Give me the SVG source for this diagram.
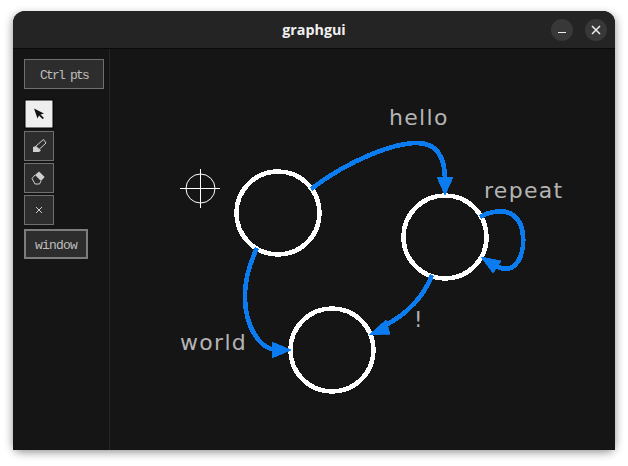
<svg xmlns="http://www.w3.org/2000/svg" width="628" height="466" viewBox="0 0 628 466">
<style>
.lbl{font-family:"DejaVu Sans",sans-serif;font-size:22px;letter-spacing:1.3px;fill:#b4b4b4}
.mono{font-family:"Liberation Mono",monospace;font-size:13px;fill:#bdbdbd}
.btn{fill:#2d2d2d;stroke:#6f6f6f;stroke-width:1}
.node{fill:none;stroke:#fff;stroke-width:4.600;shape-rendering:crispEdges}
.edge{fill:none;stroke:#0a7cf0;stroke-width:4.600;shape-rendering:crispEdges}
.head{fill:#0a7cf0;stroke:#0a7cf0;stroke-width:.8;shape-rendering:crispEdges}
.icon{fill:none;stroke:#cfcfcf;stroke-width:1}
</style>
<defs><filter id="sh" x="-10%" y="-10%" width="120%" height="120%"><feGaussianBlur stdDeviation="5"/></filter></defs>
<rect width="628" height="466" fill="#fff"/>
<rect x="13" y="15" width="602" height="437" rx="8" fill="#000" opacity=".45" filter="url(#sh)"/>
<g id="window">
<path d="M13 450V23a12 12 0 0 1 12-12H603a12 12 0 0 1 12 12V450Z" fill="#151515"/>
<path d="M13 48V23a12 12 0 0 1 12-12H603a12 12 0 0 1 12 12V48Z" fill="#242424"/>
<rect x="13" y="48" width="602" height="1" fill="#0a0a0a"/>
<rect x="109" y="49" width="1" height="401" fill="#262626"/>
<text x="314" y="35" text-anchor="middle" font-family="'Open Sans','Noto Sans',sans-serif" font-weight="700" font-size="14.300" fill="#f0f0f0">graphgui</text>
<circle cx="562" cy="30" r="11" fill="#383838"/>
<rect x="558" y="32" width="8" height="1" fill="#eee"/>
<circle cx="596" cy="30" r="11" fill="#383838"/>
<path d="M592 26l8 8M600 26l-8 8" stroke="#eee" stroke-width="1.5"/>
</g>
<g id="btn-ctrl"><rect class="btn" x="24.500" y="59.500" width="79" height="29"/><text class="mono" x="64" y="79" text-anchor="middle" letter-spacing="-1.800">Ctrl pts</text></g>
<g id="btn-select"><rect x="25" y="100" width="28" height="28" fill="#eee" stroke="#000"/><path d="M34 108.500l10 5-3.500 1 3.500 3.500-1.500 1-3.500-3.500-1.500 3Z" fill="#111"/></g>
<g id="btn-pencil"><rect class="btn" x="24.500" y="131.500" width="29" height="29"/><path class="icon" d="M36 146l7.500-6.500 2.500 3.500-8 7.500"/><path d="M33 147l3-1 5 4.500-2 1.500h-6Z" fill="#cfcfcf"/></g>
<g id="btn-eraser"><rect class="btn" x="24.500" y="163.500" width="29" height="29"/><path d="M39 171.500l5.700 5.500-3.700 4-6-6Z" fill="#cfcfcf"/><path class="icon" d="M35 175l-3 3.500 3 5.500h4.500l1.500-3"/></g>
<g id="btn-clear"><rect class="btn" x="24.500" y="195.500" width="29" height="29"/><path class="icon" d="M36 207l6 6M42 207l-6 6"/></g>
<g id="btn-window"><rect x="25" y="230" width="62" height="28" fill="#2d2d2d" stroke="#7c7c7c" stroke-width="2"/><text class="mono" x="56" y="249" text-anchor="middle" letter-spacing="-0.800">window</text></g>
<g id="cursor"><circle cx="200.500" cy="188.500" r="14.500" fill="none" stroke="#fff"/><path d="M180 188.500h40M200.500 169v39" stroke="#fff" fill="none"/></g>
<g id="node-a"><circle class="node" cx="278" cy="213" r="41.500"/></g>
<g id="node-b"><circle class="node" cx="445" cy="237" r="41.500"/></g>
<g id="node-c"><circle class="node" cx="332" cy="350" r="41.500"/></g>
<g id="connectors">
<path class="edge" d="M311 189C352 158 395 143 417 143C435 143 445 155 445 180"/>
<path class="head" d="M445 195L437 177H453Z"/>
<path class="edge" d="M480 217C490 211 505 209 513 215C527 225 526 255 514 266C508 271 501 269 494 265"/>
<path class="head" d="M481 257L501 261L493 273Z"/>
<path class="edge" d="M257 248C249 265 244 282 245 300C246 325 258 348 276 350"/>
<path class="head" d="M291 350L272 342V358Z"/>
<path class="edge" d="M432 275C424 296 410 312 386 325"/>
<path class="head" d="M369 335L386 320L390 334Z"/>
</g>
<g id="labels">
<text class="lbl" x="389" y="125">hello</text>
<text class="lbl" x="484" y="198">repeat</text>
<text class="lbl" x="180" y="350">world</text>
<text class="lbl" x="414" y="327" style="font-size:21px;letter-spacing:0">!</text>
</g>
</svg>
